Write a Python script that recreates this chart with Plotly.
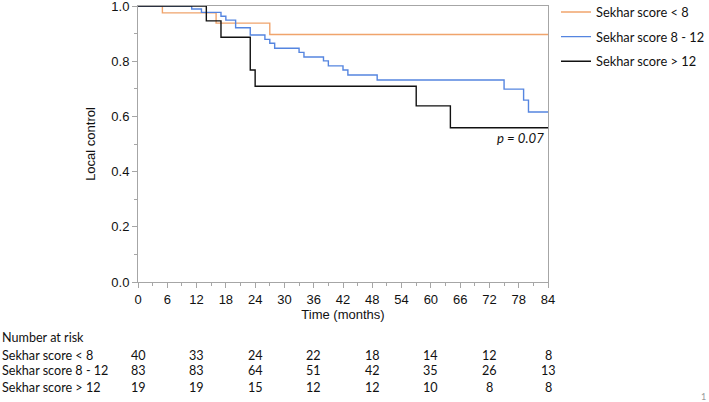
import plotly.graph_objects as go

# ---- data ----
names = ["Sekhar score < 8", "Sekhar score 8 - 12", "Sekhar score > 12"]
colors = ["#F0A46C", "#5585E0", "#111111"]

t_low = [0, 5, 16, 27, 84]
s_low = [1.0, 0.975, 0.938, 0.897, 0.897]

t_mid = [0, 11, 13, 17, 18, 20, 23, 26, 27, 28, 33, 34, 38, 39, 42, 43, 49, 75, 79, 80, 84]
s_mid = [1.0, 0.989, 0.977, 0.963, 0.949, 0.921, 0.895, 0.879, 0.865, 0.847, 0.832,
         0.815, 0.801, 0.783, 0.768, 0.750, 0.732, 0.699, 0.659, 0.616, 0.616]

t_high = [0, 14, 17, 23, 24, 57, 64, 84]
s_high = [1.0, 0.946, 0.887, 0.768, 0.709, 0.638, 0.559, 0.559]

risk_times = [0, 12, 24, 36, 48, 60, 72, 84]
risk_low = [40, 33, 24, 22, 18, 14, 12, 8]
risk_mid = [83, 83, 64, 51, 42, 35, 26, 13]
risk_high = [19, 19, 15, 12, 12, 10, 8, 8]

x_ticks = list(range(0, 85, 6))
y_ticks = [0.0, 0.2, 0.4, 0.6, 0.8, 1.0]

# ---- figure ----
fig = go.Figure()
series = [(t_low, s_low), (t_mid, s_mid), (t_high, s_high)]
for i, ((t, s), n, c) in enumerate(zip(series, names, colors)):
    fig.add_trace(go.Scatter(x=t, y=s, mode="lines", name=n, legendgroup=str(i),
                             line=dict(color=c, width=1.4, shape="hv"), showlegend=True))

table_font = dict(family="Lato, Noto Sans, sans-serif", size=12.6, color="#111")
legend_font = dict(family="Lato, Noto Sans, sans-serif", size=12.8, color="#111")
p_font = dict(family="Lato, Noto Sans, sans-serif", size=13.2, color="#111")
axis_font = dict(family="Liberation Sans, Arial, sans-serif", size=13, color="#111")
grey = "#A6A6A6"

plot_w = 709 - 138 - 161
plot_h = 402 - 6 - 120

def py(pix):
    return (282 - pix) / plot_h

ann = []
ann.append(dict(text="Number at risk", xref="paper", yref="paper", x=-138 / plot_w, y=py(337),
                xanchor="left", yanchor="middle", showarrow=False, font=table_font))
for row, (n, vals) in enumerate(zip(names, [risk_low, risk_mid, risk_high])):
    yy = py(355 + 16 * row)
    ann.append(dict(text=n, xref="paper", yref="paper", x=-138 / plot_w, y=yy,
                    xanchor="left", yanchor="middle", showarrow=False, font=table_font))
    for tt, v in zip(risk_times, vals):
        ann.append(dict(text=str(v), xref="x", yref="paper", x=tt, y=yy,
                        xanchor="center", yanchor="middle", showarrow=False, font=table_font))

ann.append(dict(text="<i>p = 0.07</i>", xref="x", yref="y", x=83.5, y=0.52,
                xanchor="right", yanchor="middle", showarrow=False, font=p_font))
ann.append(dict(text="1", xref="paper", yref="paper", x=(703 - 138) / plot_w, y=py(396),
                xanchor="center", yanchor="middle", showarrow=False,
                font=dict(family="Lato, sans-serif", size=9, color="#999")))

fig.update_layout(
    width=709, height=402,
    margin=dict(l=138, r=161, t=6, b=120, autoexpand=False),
    paper_bgcolor="white", plot_bgcolor="white",
    showlegend=True,
    legend=dict(x=1.0 + 8 / plot_w, xanchor="left", y=1.032, yanchor="top", font=legend_font,
                bgcolor="rgba(0,0,0,0)", tracegroupgap=5, itemwidth=30,
                xref="paper"),
    annotations=ann,
    xaxis=dict(range=[0, 84], tickvals=x_ticks, ticktext=[str(v) for v in x_ticks],
               automargin=False, ticklabeloverflow="allow",
               showline=True, linecolor=grey, linewidth=1, mirror=True,
               ticks="outside", ticklen=5, tickcolor=grey, showgrid=False, zeroline=False,
               minor=dict(dtick=3, ticks="outside", ticklen=3, tickcolor=grey, showgrid=False),
               tickfont=axis_font,
               title=dict(text="Time (months)", font=axis_font, standoff=2)),
    yaxis=dict(range=[0, 1], tickvals=y_ticks, ticktext=[f"{v:.1f}" for v in y_ticks],
               automargin=False, ticklabeloverflow="allow",
               showline=True, linecolor=grey, linewidth=1, mirror=True,
               ticks="outside", ticklen=5, tickcolor=grey, showgrid=False, zeroline=False,
               minor=dict(dtick=0.1, ticks="outside", ticklen=3, tickcolor=grey, showgrid=False),
               tickfont=axis_font,
               title=dict(text="Local control", font=axis_font, standoff=12)),
)

fig.write_html("out.html", config={"displayModeBar": False},
               post_script="document.body.style.margin='0';document.body.style.overflow='hidden';")
